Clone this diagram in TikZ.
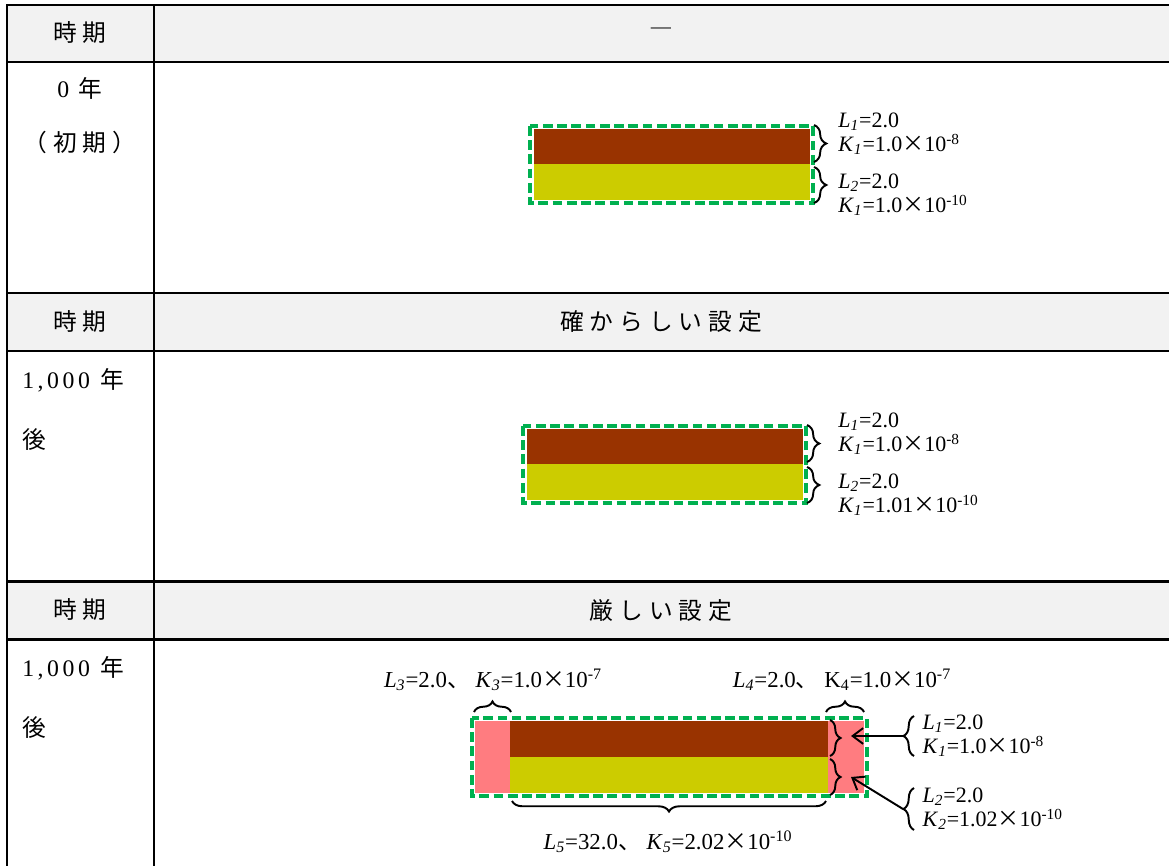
\documentclass[tikz,border=0pt]{standalone}
\usepackage{fontspec}
\setmainfont{Liberation Serif}
\newfontfamily\jp{Noto Sans CJK JP}
\newfontfamily\jpt[LetterSpace=25]{Noto Sans CJK JP}
\newfontfamily\rmt[LetterSpace=15]{Liberation Serif}
\usetikzlibrary{positioning, decorations.pathreplacing, arrows.meta}
\definecolor{headgray}{HTML}{F2F2F2}
\definecolor{dashgreen}{HTML}{00B050}
\definecolor{claybrown}{HTML}{993300}
\definecolor{mustard}{HTML}{CCCC00}
\definecolor{salmon}{HTML}{FF7C80}
\newcommand{\pv}[2]{\textit{#1}\textsubscript{\textit{#2}}}
\newcommand{\tenx}[1]{{\jp ×}10\textsuperscript{#1}}

\begin{document}
\begin{tikzpicture}[x=0.02cm, y=-0.02cm,
         rule/.style={line width=1.7pt, line cap=rect},
         cell text/.style={font=\fontsize{13.5}{16}\selectfont\jpt, inner sep=0pt},
         layer label/.style={font=\fontsize{12.5}{13.6}\selectfont, align=left, anchor=west, inner sep=0pt},
         dim label/.style={font=\fontsize{13}{13.6}\selectfont, inner sep=0pt},
         outline/.style={draw=dashgreen, line width=2pt, dash pattern=on 5.5pt off 2.6pt},
         curly/.style={decorate, decoration={brace, amplitude=6pt}, line width=1.1pt},
         pointer/.style={line width=1.1pt, -{Straight Barb[length=6pt, width=9pt]}}] %pixel grid of the reference

       \useasboundingbox (0,0) rectangle (1169,865);

       % table
       \foreach \t/\b in {5/62, 293/351, 581/639}
        \fill[headgray] (7,\t) rectangle (1169,\b);
       \foreach \y in {5, 62, 293, 351, 581, 639}
        \draw[rule] (7,\y) -- (1169,\y);
       \foreach \x in {7, 154}
        \draw[rule] (\x,5) -- (\x,865);

       \foreach \y/\r in {33/{―}, 322/確からしい設定, 610/厳しい設定} {
        \node[cell text] (p\y) at (80,\y) {時期};
        \node[cell text] (h\y) at (661,\y) {\r};}

       \node[cell text] (y0) at (80,88) {{\rmt 0 }年};
       \node[cell text] (y0b) at (80,142) {（初期）};
       \foreach \y in {380, 668} {
        \node[cell text, anchor=west] (y\y) at (22,\y) {{\rmt 1,000}\hspace{6pt}年};
        \node[cell text, anchor=west] (g\y) at (22,\y+60) {後};}

       % two layers, 0 and 1,000 years
       \foreach \l/\t/\k in {530/126/1.0, 523/426/1.01} {
        \fill[claybrown] (\l+4,\t+3) rectangle (\l+280,\t+38);
        \fill[mustard] (\l+4,\t+38) rectangle (\l+280,\t+74);
        \draw[outline] (\l,\t) rectangle (\l+283,\t+77);
        \draw[curly, decoration={amplitude=7pt}] (\l+284,\t-1) -- (\l+284,\t+36);
        \draw[curly, decoration={amplitude=7pt}] (\l+284,\t+41) -- (\l+284,\t+77);
        \node[layer label] (a\t) at (838,\t+8) {\pv{L}{1}=2.0\\\pv{K}{1}=1.0\tenx{-8}};
        \node[layer label] (b\t) at (838,\t+69) {\pv{L}{2}=2.0\\\pv{K}{1}=\k\tenx{-10}};}

       % strict setting
       \fill[salmon] (475,721) rectangle (510,793);
       \fill[claybrown] (510,721) rectangle (828,757);
       \fill[mustard] (510,757) rectangle (828,793);
       \fill[salmon] (828,721) rectangle (864,793);
       \draw[outline] (472,718) rectangle (867,796);

       \draw[curly] (474,712) -- (511,712);
       \draw[curly] (826,712) -- (864,712);
       \draw[curly] (826,801) -- (512,801);
       \node[dim label] (l3) at (493,680) {\pv{L}{3}=2.0{\jp 、} \pv{K}{3}=1.0\tenx{-7}};
       \node[dim label] (l4) at (842,680) {\pv{L}{4}=2.0{\jp 、} K\textsubscript{4}=1.0\tenx{-7}};
       \node[dim label] (l5) at (668,842) {\pv{L}{5}=32.0{\jp 、} \pv{K}{5}=2.02\tenx{-10}};

       \draw[curly] (830,720) -- (830,756);
       \draw[curly] (830,759) -- (830,795);
       \draw[curly] (914,756) -- (914,716);
       \draw[curly] (914,830) -- (914,788);
       \coordinate (s1) at (903,736);
       \coordinate (s2) at (903,809);
       \coordinate (e1) at (851,736);
       \coordinate (e2) at (851,777);
       \node[layer label, right=11pt of s1] (c1) {\pv{L}{1}=2.0\\\pv{K}{1}=1.0\tenx{-8}};
       \node[layer label, right=11pt of s2] (c2) {\pv{L}{2}=2.0\\\pv{K}{2}=1.02\tenx{-10}};

       \foreach \s/\t in {s1/e1, s2/e2} {
        \draw[pointer] (\s) -- (\t);}
      \end{tikzpicture}
\end{document}
